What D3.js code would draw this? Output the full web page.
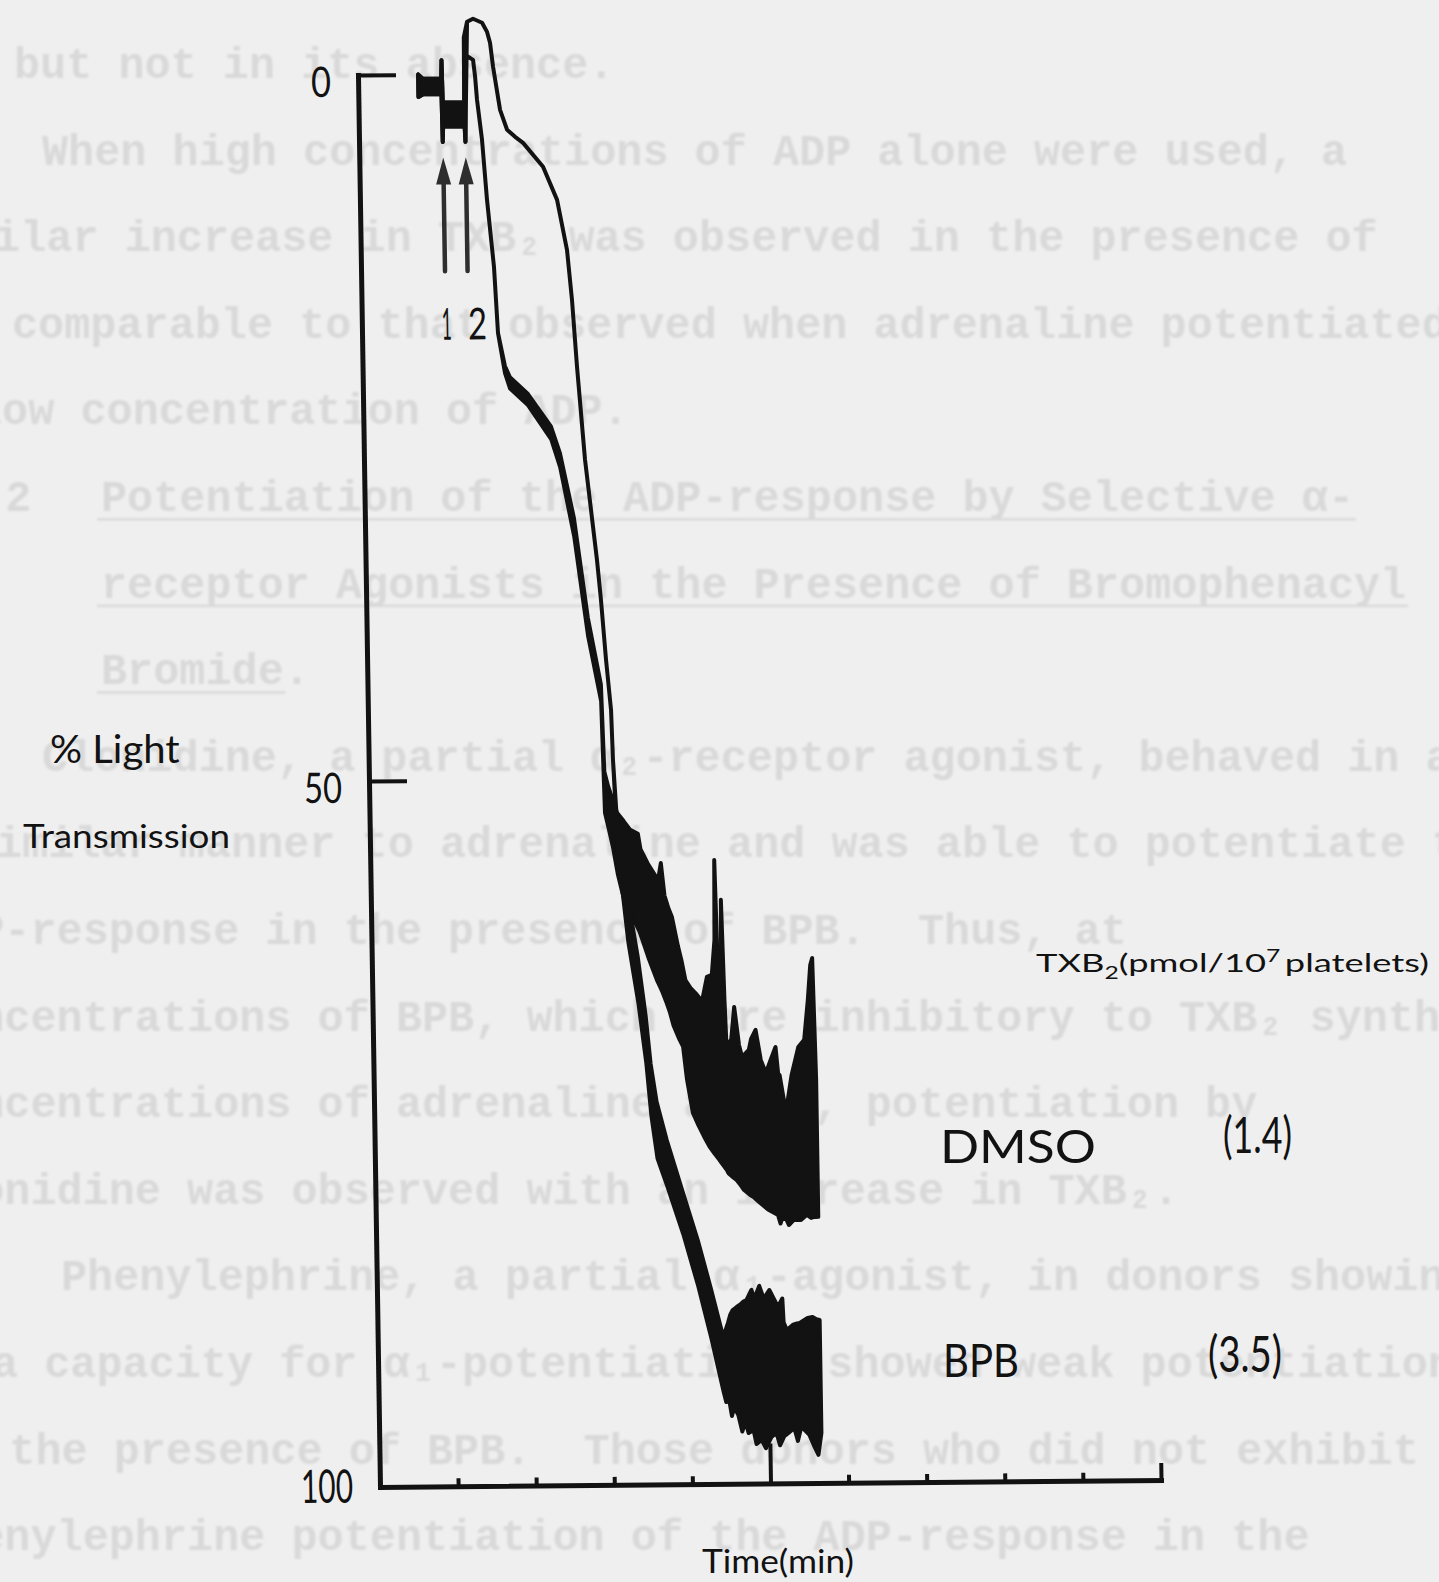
<!DOCTYPE html>
<html>
<head>
<meta charset="utf-8">
<script src="https://cdn.jsdelivr.net/npm/d3@7"></script>
<style>
  html, body { margin: 0; padding: 0; background: #efefef; }
  svg { display: block; }
</style>
</head>
<body>
<svg id="fig" width="1439" height="1582"></svg>
<script>
// ---------------- data ----------------
// time axis (min) and % light transmission axis
const timeTicks = [0, 1, 2, 3, 4, 5, 6, 7, 8, 9, 10];
const yTicks = [0, 50, 100];
const yTickLabels = ["0", "50", "100"];

// additions: 1 and 2 (arrows)
const additionTimes = [1.075, 1.364];
const additionLabels = ["1", "2"];
const arrowSpan = [5.9, 13.95];   // % transmission: arrow tip, arrow tail

// treatment groups and their TXB2 (pmol/10^7 platelets)
const groups = ["DMSO", "BPB"];
const txb2 = [1.4, 3.5];

// aggregometer traces, each row: [time, upper edge %, lower edge %]
const dmsoTrace = [
  [0.77, 0.0, 1.6], [0.83, 0.3, 1.4], [1.065, 0.3, 1.4],
  [1.072, -1.0, 4.8], [1.080, 2.0, 3.7], [1.355, 2.0, 3.7],
  [1.364, -1.3, 4.8], [1.372, -0.9, -0.9], [1.414, -1.22, -1.22], [1.476, -1.0, -1.0],
  [1.499, 0.2, 0.2], [1.519, 1.83, 1.83], [1.575, 4.67, 4.67], [1.627, 8.92, 8.92],
  [1.703, 13.67, 13.67], [1.741, 18.35, 18.35], [1.823, 20.7, 21.2], [1.885, 21.5, 22.3],
  [2.113, 22.7, 23.5], [2.400, 25.0, 25.9], [2.510, 26.9, 27.9], [2.676, 31.5, 32.8],
  [2.835, 38.6, 39.9], [2.988, 43.3, 44.5],
  [3.015, 49.5, 52.4], [3.059, 50.5, 53.5], [3.111, 51.4, 54.85], [3.169, 52.4, 56.8],
  [3.252, 53.0, 58.8], [3.330, 53.6, 59.6], [3.431, 53.9, 60.8], [3.462, 55.0, 61.3],
  [3.550, 56.0, 62.8], [3.648, 56.9, 64.3], [3.681, 57.2, 64.7], [3.720, 56.0, 65.2],
  [3.760, 58.3, 65.8], [3.808, 59.2, 66.6], [3.850, 59.8, 67.5], [3.923, 61.9, 68.5],
  [3.968, 63.0, 69.0], [4.011, 64.3, 71.3], [4.080, 64.9, 73.7], [4.150, 65.3, 74.6],
  [4.220, 65.8, 75.4], [4.287, 64.09, 76.1], [4.350, 63.95, 76.6], [4.391, 61.47, 76.9],
  [4.404, 55.81, 77.0], [4.430, 63.95, 77.2], [4.468, 65.01, 77.5], [4.481, 58.64, 77.6],
  [4.507, 65.73, 77.8], [4.524, 68.92, 78.0], [4.585, 68.57, 78.3], [4.630, 66.23, 78.5],
  [4.684, 68.92, 78.9], [4.721, 69.78, 79.2], [4.809, 69.29, 79.6], [4.840, 68.5, 79.7],
  [4.899, 67.87, 80.0], [4.960, 70.0, 80.3], [5.023, 70.93, 80.6], [5.087, 70.0, 80.8],
  [5.151, 69.09, 81.0], [5.180, 71.0, 81.6], [5.198, 71.08, 81.3], [5.248, 72.85, 81.2],
  [5.287, 73.21, 81.71], [5.352, 71.08, 81.35], [5.443, 69.11, 81.36], [5.520, 68.6, 81.0],
  [5.574, 65.79, 81.22], [5.612, 63.31, 81.15], [5.638, 62.81, 81.15], [5.665, 71.45, 81.15]
];

const bpbTrace = [
  [0.77, 0.0, 1.6], [0.83, 0.3, 1.4], [1.065, 0.3, 1.4],
  [1.072, -1.0, 4.8], [1.080, 2.0, 3.7], [1.355, 2.0, 3.7],
  [1.362, -2.6, 4.8], [1.407, -3.70, -3.70], [1.484, -3.91, -3.91], [1.599, -3.62, -3.62],
  [1.661, -2.97, -2.97], [1.697, -2.2, -2.2], [1.731, -0.5, -0.5], [1.812, 2.56, 2.56],
  [1.898, 3.97, 3.97], [1.999, 4.48, 4.48], [2.100, 4.91, 4.91], [2.351, 6.62, 6.62],
  [2.524, 8.97, 8.97], [2.641, 12.51, 12.51], [2.695, 16.06, 16.06], [2.746, 20.81, 20.81],
  [2.830, 27.39, 27.39], [2.963, 34.49, 34.49], [3.006, 37.32, 37.32], [3.059, 41.57, 41.57],
  [3.113, 45.12, 45.12], [3.128, 48.66, 48.66], [3.174, 53.8, 55.2],
  [3.289, 58.4, 61.6], [3.405, 62.6, 65.9], [3.495, 66.8, 70.2], [3.549, 70.2, 73.9],
  [3.618, 72.9, 76.9], [3.739, 75.6, 78.9], [3.934, 79.3, 82.3], [4.116, 82.7, 86.0],
  [4.273, 86.1, 89.7], [4.416, 89.4, 93.4], [4.45, 89.2, 94.2],
  [4.488, 88.6, 94.06], [4.52, 88.0, 95.2], [4.551, 87.69, 94.56], [4.602, 87.48, 95.13],
  [4.65, 87.3, 96.3], [4.69, 87.1, 95.6], [4.730, 86.99, 96.41], [4.794, 86.28, 96.2],
  [4.83, 86.9, 97.2], [4.895, 86.0, 96.91], [4.95, 86.9, 97.5], [5.023, 86.30, 96.70],
  [5.087, 87.01, 96.42], [5.13, 87.5, 97.3], [5.188, 86.9, 96.64], [5.20, 88.6, 96.6],
  [5.24, 89.14, 96.43], [5.316, 88.79, 96.08], [5.36, 88.7, 97.0], [5.406, 88.65, 96.0],
  [5.508, 88.3, 96.59], [5.572, 88.24, 97.44], [5.62, 88.4, 98.0], [5.662, 88.45, 96.46]
];

// typed text showing through from the reverse of the page
const pageLines = [
  "but not in its absence.",
  "When high concentrations of ADP alone were used, a",
  "milar increase in TXB\u2082 was observed in the presence of",
  "comparable to that observed when adrenaline potentiated",
  "low concentration of ADP.",
  "5.2",
  "Potentiation of the ADP-response by Selective \u03b1-",
  "receptor Agonists in the Presence of Bromophenacyl",
  "Bromide.",
  "Clonidine, a partial \u03b1\u2082-receptor agonist, behaved in a",
  "similar manner to adrenaline and was able to potentiate the",
  "ADP-response in the presence of BPB.  Thus, at",
  "concentrations of BPB, which were inhibitory to TXB\u2082 synthesis,",
  "concentrations of adrenaline alone, potentiation by",
  "clonidine was observed with an increase in TXB\u2082.",
  "Phenylephrine, a partial \u03b1\u2081-agonist, in donors showing",
  "a capacity for \u03b1\u2081-potentiation, showed weak potentiation",
  "in the presence of BPB.  Those donors who did not exhibit",
  "phenylephrine potentiation of the ADP-response in the"
];
// [row, left x, underlined chars]
const pageLineLayout = [
  [0, 14, 0], [1, 42, 0], [2, -32, 0], [3, 12, 0], [4, -24, 0],
  [5, -47, 0], [5, 101, 48], [6, 101, 50], [7, 101, 7],
  [8, 42, 0], [9, -30, 0], [10, -74, 0], [11, -74, 0], [12, -74, 0], [13, -74, 0],
  [14, 61, 0], [15, -8, 0], [16, -69, 0], [17, -74, 0]
];

// ---------------- drawing ----------------
const W = 1439, H = 1582;
const ink = "#121212";
const labelFont = "Lato, 'Open Sans', sans-serif";

const svg = d3.select("#fig");
svg.append("rect").attr("width", W).attr("height", H).attr("fill", "#efefef");

const defs = svg.append("defs");
defs.append("filter").attr("id", "soft")
  .append("feGaussianBlur").attr("stdDeviation", 1.0);

// faint show-through text
const bleed = svg.append("g")
  .attr("filter", "url(#soft)")
  .attr("fill", "#d9d9d9")
  .style("font-family", "'Liberation Mono', 'DejaVu Sans Mono', monospace")
  .style("font-weight", "bold")
  .style("font-size", "43.5px");
const rowY = r => 78 + 86.6 * r;
pageLines.forEach((s, i) => {
  const [row, lx, ul] = pageLineLayout[i];
  bleed.append("text")
    .attr("x", lx).attr("y", rowY(row))
    .attr("xml:space", "preserve")
    .text(s);
  if (ul > 0) {
    bleed.append("rect")
      .attr("x", lx - 4).attr("y", rowY(row) + 7)
      .attr("width", ul * 26.1 + 6).attr("height", 2.5);
  }
});

// scales
const x = d3.scaleLinear().domain([0, 10]).range([380, 1161]);
const y = d3.scaleLinear().domain([0, 100]).range([75, 1487]);

// the recorder chart sits slightly askew on the page
const plot = svg.append("g")
  .attr("transform", "translate(380,1487) matrix(1,-0.009,0.0156,1,0,0) translate(-380,-1487)");

// traces
const band = d3.area()
  .x(d => x(d[0]))
  .y0(d => y(d[1]))
  .y1(d => y(d[2]));

[dmsoTrace, bpbTrace].forEach(tr => {
  plot.append("path")
    .datum(tr)
    .attr("d", band)
    .attr("fill", ink)
    .attr("stroke", ink)
    .attr("stroke-width", 4)
    .attr("stroke-linejoin", "round");
});

// y axis
const yAxis = d3.axisLeft(y)
  .tickValues(yTicks)
  .tickFormat((d, i) => yTickLabels[i])
  .tickSize(-38)
  .tickSizeOuter(0)
  .tickPadding(27);
const gy = plot.append("g").attr("transform", `translate(${x(0)},0)`).call(yAxis);
gy.select(".domain").attr("stroke", ink).attr("stroke-width", 5).attr("stroke-linecap", "square");
gy.selectAll(".tick line").attr("stroke", ink).attr("stroke-width", 4)
  .attr("display", d => d === 100 ? "none" : null);
const yLabelW = { 0: 20, 50: 38, 100: 52 };
gy.selectAll(".tick text")
  .attr("fill", ink)
  .style("font-family", labelFont)
  .style("font-size", d => d === 100 ? "46px" : "42px")
  .attr("dy", d => d === 100 ? "0.32em" : "0.5em")
  .attr("textLength", d => yLabelW[d])
  .attr("lengthAdjust", "spacingAndGlyphs");

// x axis
const xAxis = d3.axisBottom(x)
  .tickValues(timeTicks.slice(1))
  .tickFormat("")
  .tickSize(-8)
  .tickSizeOuter(0);
const gx = plot.append("g").attr("transform", `translate(0,${y(100)})`).call(xAxis);
gx.select(".domain").attr("stroke", ink).attr("stroke-width", 5).attr("stroke-linecap", "square");
gx.selectAll(".tick line")
  .attr("stroke", ink).attr("stroke-width", 4)
  .attr("y2", d => d === 5 ? -40 : d === 10 ? -17 : -8);

// addition arrows
additionTimes.forEach((t, i) => {
  const ax = x(t);
  const tip = y(arrowSpan[0]);
  const tail = y(arrowSpan[1]);
  plot.append("line")
    .attr("x1", ax).attr("x2", ax)
    .attr("y1", tail).attr("y2", tip + 20)
    .attr("stroke", "#2e2e2e").attr("stroke-width", 4.5).attr("stroke-linecap", "round");
  plot.append("path")
    .attr("d", `M${ax},${tip} L${ax - 7.5},${tip + 27} L${ax + 7.5},${tip + 27} Z`)
    .attr("fill", "#2e2e2e");
  plot.append("text")
    .attr("x", ax + (i === 0 ? 1 : 9)).attr("y", y(18.8))
    .attr("text-anchor", "middle")
    .attr("fill", ink)
    .style("font-family", labelFont)
    .style("font-size", "44px")
    .attr("textLength", i === 0 ? 10 : 19)
    .attr("lengthAdjust", "spacingAndGlyphs")
    .text(additionLabels[i]);
});

// text placed at a baseline and stretched to a set width
function fitText(px, py, width, size, build) {
  const t = svg.append("text")
    .attr("fill", ink)
    .style("font-family", labelFont)
    .style("font-size", size + "px");
  build(t);
  const w = t.node().getBBox().width;
  t.attr("transform", `translate(${px},${py}) scale(${width / w},1)`);
  return t;
}

fitText(50, 763, 130, 38, t => t.text("% Light"));
fitText(23, 848, 207, 33, t => t.text("Transmission"));
fitText(702, 1573, 152, 32, t => t.text("Time(min)"));

fitText(1036, 972, 393, 25, t => {
  t.append("tspan").text("TXB");
  t.append("tspan").attr("dy", 7).style("font-size", "17px").text("2");
  t.append("tspan").attr("dy", -7).text("(pmol/10");
  t.append("tspan").attr("dy", -10).style("font-size", "17px").text("7");
  t.append("tspan").attr("dy", 10).text("\u2009platelets)");
});

const groupLayout = [
  { nx: 940, nw: 156, vx: 1223, vw: 69, base: 1163, vbase: 1153 },
  { nx: 943, nw: 76, vx: 1208, vw: 74, base: 1377, vbase: 1372 }
];
groups.forEach((g, i) => {
  const L = groupLayout[i];
  fitText(L.nx, L.base, L.nw, 46, t => t.text(g));
  fitText(L.vx, L.vbase, L.vw, 50, t => t.text(`(${txb2[i].toFixed(1)})`));
});
</script>
</body>
</html>
